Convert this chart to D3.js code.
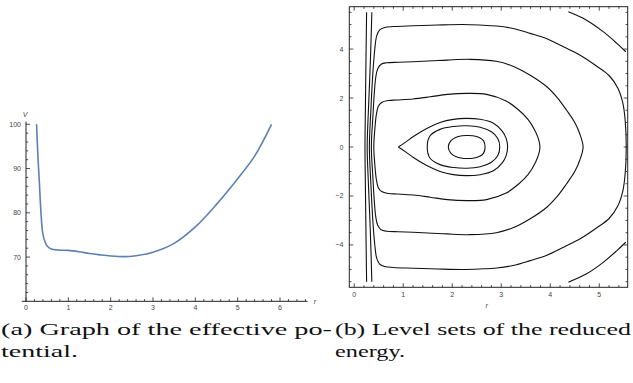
<!DOCTYPE html>
<html>
<head>
<meta charset="utf-8">
<script src="https://cdn.jsdelivr.net/npm/d3@7"></script>
<style>
  body { margin: 0; background: #fff; }
  svg { display: block; }
  .tick-label { font-family: "Liberation Sans", Arial, sans-serif; font-size: 7px; fill: #444; }
</style>
</head>
<body>
<div class="fig"></div>
<script>
// effective potential V(r)
const potR = [0.25, 0.28, 0.31, 0.35, 0.395, 0.45, 0.5, 0.6, 0.75, 1.0, 1.25, 1.5, 1.75, 2.0, 2.3, 2.6, 3.0, 3.5, 4.0, 4.5, 5.0, 5.4, 5.8]
const potV = [100, 93, 88, 80.6, 75.4, 73.4, 72.5, 71.8, 71.6, 71.5, 71.2, 70.8, 70.5, 70.25, 70.1, 70.3, 71.1, 73.1, 76.8, 81.9, 87.7, 92.8, 100]

const potXTicks = [0, 1, 2, 3, 4, 5, 6]
const potYTicks = [70, 80, 90, 100]

// level sets of panel (b): upper halves [r, p], mirrored in p
const levelInner = [[1.92, 0], [1.97, 0.25], [2.07, 0.39], [2.2, 0.46], [2.3, 0.47], [2.42, 0.46], [2.55, 0.39], [2.64, 0.25], [2.67, 0]]
const levelMiddle = [[1.49, 0], [1.545, 0.45], [1.75, 0.72], [2.03, 0.84], [2.29, 0.87], [2.57, 0.81], [2.8, 0.62], [2.93, 0.35], [2.97, 0]]
const levelTear = [[0.9, 0], [1.05, 0.2], [1.2, 0.42], [1.48, 0.76], [1.75, 1.0], [2.02, 1.13], [2.29, 1.17], [2.57, 1.13], [2.84, 0.97], [3.02, 0.65], [3.1, 0.35], [3.13, 0]]
const levelD = [[0.4, 0], [0.42, 0.7], [0.45, 1.3], [0.49, 1.65], [0.56, 1.82], [0.7, 1.9], [0.87, 1.92], [1.2, 1.96], [1.55, 2.05], [1.9, 2.15], [2.3, 2.19], [2.7, 2.15], [3.1, 1.88], [3.35, 1.52], [3.55, 1.12], [3.7, 0.62], [3.77, 0.25], [3.79, 0]]
const levelE = [[0.35, 0], [0.38, 1.2], [0.41, 2.2], [0.44, 2.85], [0.48, 3.2], [0.55, 3.38], [0.66, 3.44], [0.9, 3.46], [1.2, 3.48], [1.6, 3.52], [1.9, 3.55], [2.36, 3.58], [2.9, 3.5], [3.24, 3.3], [3.6, 2.92], [3.93, 2.46], [4.15, 2.0], [4.33, 1.51], [4.5, 1.0], [4.6, 0.55], [4.67, 0]]
const levelF = [[0.31, 0], [0.34, 1.5], [0.38, 3], [0.42, 4.0], [0.46, 4.55], [0.52, 4.78], [0.62, 4.88], [0.8, 4.92], [1.2, 4.95], [1.7, 4.98], [2.22, 5.0], [2.56, 4.98], [2.91, 4.94], [3.24, 4.84], [3.59, 4.64], [3.93, 4.42], [4.27, 4.09], [4.61, 3.75], [4.95, 3.3], [5.2, 2.92], [5.38, 2.4], [5.48, 1.8], [5.53, 1.05], [5.55, 0]]
const levelA = [[0.253, 5.5], [0.24, 3.5], [0.228, 1.5], [0.22, 0]]
const levelB = [[0.36, 5.5], [0.33, 3.5], [0.29, 1.5], [0.265, 0]]
const levelCorner = [[4.37, 5.52], [4.74, 5.18], [5.08, 4.71], [5.36, 4.23], [5.54, 3.89]]

const lvXTicks = [0, 1, 2, 3, 4, 5]
const lvYTicks = [-4, -2, 0, 2, 4]

const captions = [
    { x: 1, y: 335, text: '(a) Graph of the effective po-', len: 331 },
    { x: 1, y: 357, text: 'tential.', len: 77 },
    { x: 335, y: 335, text: '(b) Level sets of the reduced', len: 296 },
    { x: 335, y: 357, text: 'energy.', len: 70 }
]

var width = 633
var height = 383

var svg = d3.select('.fig').append('svg')
    .attr('width', width)
    .attr('height', height)

// ---------- panel (a) ----------
var xA = d3.scaleLinear().domain([0, 6]).range([26, 280])
var yA = d3.scaleLinear().domain([60, 100]).range([301.3, 124.3])

var gA = svg.append('g')
var axisColor = '#222'

gA.append('line')
    .attr('x1', xA(-0.1)).attr('x2', xA(6.65))
    .attr('y1', yA(60)).attr('y2', yA(60))
    .attr('stroke', axisColor).attr('stroke-width', 1)
gA.append('line')
    .attr('x1', xA(0)).attr('x2', xA(0))
    .attr('y1', yA(60)).attr('y2', yA(100.6))
    .attr('stroke', axisColor).attr('stroke-width', 1)

// x ticks, minor every 0.2
d3.range(0, 34).map((i) => i * 0.2).forEach((v) => {
    var major = Math.abs(v - Math.round(v)) < 1e-6
    gA.append('line')
        .attr('x1', xA(v)).attr('x2', xA(v))
        .attr('y1', yA(60)).attr('y2', yA(60) - (major ? 4 : 2.2))
        .attr('stroke', axisColor).attr('stroke-width', 0.8)
})
potXTicks.forEach((v) => {
    gA.append('text').attr('class', 'tick-label')
        .attr('x', xA(v)).attr('y', yA(60) + 9)
        .attr('text-anchor', 'middle')
        .text(v)
})
// y ticks, minor every 2
d3.range(62, 101, 2).forEach((v) => {
    var major = v % 10 === 0
    gA.append('line')
        .attr('x1', xA(0)).attr('x2', xA(0) + (major ? 4 : 2.2))
        .attr('y1', yA(v)).attr('y2', yA(v))
        .attr('stroke', axisColor).attr('stroke-width', 0.8)
})
potYTicks.forEach((v) => {
    gA.append('text').attr('class', 'tick-label')
        .attr('x', xA(0) - 5).attr('y', yA(v) + 2.5)
        .attr('text-anchor', 'end')
        .text(v)
})
gA.append('text').attr('class', 'tick-label')
    .attr('x', 25).attr('y', 116.5)
    .style('font-style', 'italic')
    .attr('text-anchor', 'middle')
    .text('V')
gA.append('text').attr('class', 'tick-label')
    .attr('x', 315).attr('y', 304)
    .style('font-style', 'italic')
    .attr('text-anchor', 'middle')
    .text('r')

var potData = potR.map((r, i) => ({ r: r, v: potV[i] }))
gA.append('path')
    .datum(potData)
    .attr('fill', 'none')
    .attr('stroke', '#5E81B5')
    .attr('stroke-width', 1.6)
    .attr('d', d3.line().x((d) => xA(d.r)).y((d) => yA(d.v)).curve(d3.curveCatmullRom))

// ---------- panel (b) ----------
var xB = d3.scaleLinear().domain([-0.1, 5.58]).range([349.3, 627.7])
var yB = d3.scaleLinear().domain([-5.73, 5.73]).range([287.3, 6.7])

var gB = svg.append('g')

gB.append('rect')
    .attr('x', xB(-0.1)).attr('y', yB(5.73))
    .attr('width', xB(5.58) - xB(-0.1)).attr('height', yB(-5.73) - yB(5.73))
    .attr('fill', 'none').attr('stroke', axisColor).attr('stroke-width', 1)

// frame ticks on all four sides
d3.range(0, 28).map((i) => i * 0.2).forEach((v) => {
    var major = Math.abs(v - Math.round(v)) < 1e-6
    var len = major ? 4 : 2.2
    gB.append('line')
        .attr('x1', xB(v)).attr('x2', xB(v))
        .attr('y1', yB(-5.73)).attr('y2', yB(-5.73) - len)
        .attr('stroke', axisColor).attr('stroke-width', 0.8)
    gB.append('line')
        .attr('x1', xB(v)).attr('x2', xB(v))
        .attr('y1', yB(5.73)).attr('y2', yB(5.73) + len)
        .attr('stroke', axisColor).attr('stroke-width', 0.8)
})
d3.range(-11, 12).map((i) => i * 0.5).forEach((v) => {
    var major = Math.abs(v / 2 - Math.round(v / 2)) < 1e-6
    var len = major ? 4 : 2.2
    gB.append('line')
        .attr('x1', xB(-0.1)).attr('x2', xB(-0.1) + len)
        .attr('y1', yB(v)).attr('y2', yB(v))
        .attr('stroke', axisColor).attr('stroke-width', 0.8)
    gB.append('line')
        .attr('x1', xB(5.58)).attr('x2', xB(5.58) - len)
        .attr('y1', yB(v)).attr('y2', yB(v))
        .attr('stroke', axisColor).attr('stroke-width', 0.8)
})
lvXTicks.forEach((v) => {
    gB.append('text').attr('class', 'tick-label')
        .attr('x', xB(v)).attr('y', yB(-5.73) + 10)
        .attr('text-anchor', 'middle')
        .text(v)
})
lvYTicks.forEach((v) => {
    gB.append('text').attr('class', 'tick-label')
        .attr('x', xB(-0.1) - 6).attr('y', yB(v) + 2.5)
        .attr('text-anchor', 'end')
        .text(v < 0 ? '\u2212' + Math.abs(v) : v)
})
gB.append('text').attr('class', 'tick-label')
    .attr('x', 486.7).attr('y', 308)
    .style('font-style', 'italic')
    .attr('text-anchor', 'middle')
    .text('r')

var lineB = d3.line().x((d) => xB(d[0])).y((d) => yB(d[1]))

// closed level set: upper half then mirrored lower half
function loop(upper) {
    var lower = upper.slice(1, -1).reverse().map((d) => [d[0], -d[1]])
    return upper.concat(lower)
}

var closedSets = [levelInner, levelMiddle, levelD, levelE, levelF]
closedSets.forEach((s) => {
    gB.append('path')
        .datum(loop(s))
        .attr('fill', 'none').attr('stroke', '#111').attr('stroke-width', 1.1)
        .attr('d', lineB.curve(d3.curveCatmullRomClosed))
})

// teardrop: keep the cusp sharp
var tear = levelTear.concat(levelTear.slice(0, -1).reverse().map((d) => [d[0], -d[1]]))
gB.append('path')
    .datum(tear)
    .attr('fill', 'none').attr('stroke', '#111').attr('stroke-width', 1.1)
    .attr('d', lineB.curve(d3.curveCatmullRom))

;[levelA, levelB].forEach((s) => {
    var pts = s.concat(s.slice(0, -1).reverse().map((d) => [d[0], -d[1]]))
    gB.append('path')
        .datum(pts)
        .attr('fill', 'none').attr('stroke', '#111').attr('stroke-width', 1.1)
        .attr('d', lineB.curve(d3.curveCatmullRom))
})

var cornerLow = levelCorner.map((d) => [d[0], -d[1]])
;[levelCorner, cornerLow].forEach((s) => {
    gB.append('path')
        .datum(s)
        .attr('fill', 'none').attr('stroke', '#111').attr('stroke-width', 1.1)
        .attr('d', lineB.curve(d3.curveCatmullRom))
})

// ---------- captions ----------
svg.selectAll('text.caption')
    .data(captions)
    .enter()
    .append('text')
    .attr('class', 'caption')
    .attr('x', (d) => d.x)
    .attr('y', (d) => d.y)
    .style('font-family', "'Liberation Serif', 'Times New Roman', Times, serif")
    .style('font-size', '17px')
    .style('font-weight', '400')
    .style('fill', '#111')
    .attr('textLength', (d) => d.len)
    .attr('lengthAdjust', 'spacingAndGlyphs')
    .text((d) => d.text)
</script>
</body>
</html>
